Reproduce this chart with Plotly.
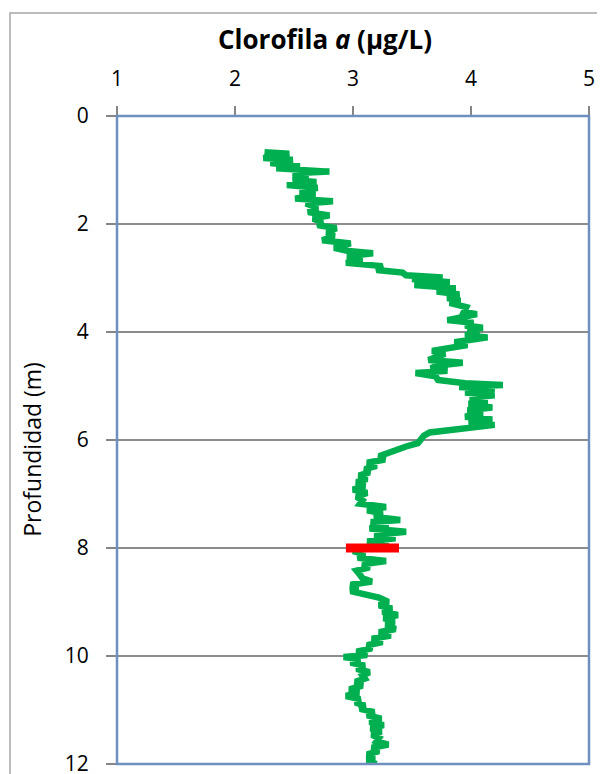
import plotly.graph_objects as go

# Chlorophyll-a profile (depth in m, value in µg/L)
depth = [0.67, 0.70, 0.78, 0.81, 0.87, 0.93, 0.97, 1.03, 1.06, 1.12, 1.19, 1.22, 1.28, 1.33, 1.40,
         1.46, 1.53, 1.58, 1.62, 1.70, 1.78, 1.84, 1.90, 1.96, 2.02, 2.08, 2.15, 2.22, 2.30, 2.36,
         2.44, 2.50, 2.54, 2.60, 2.66, 2.72, 2.78, 2.85, 2.90, 2.95, 2.99, 3.02, 3.08, 3.13, 3.19,
         3.25, 3.30, 3.37, 3.42, 3.46, 3.54, 3.63, 3.67, 3.72, 3.78, 3.83, 3.88, 3.92, 3.97, 4.01,
         4.06, 4.10, 4.15, 4.19, 4.24, 4.30, 4.35, 4.40, 4.46, 4.52, 4.57, 4.62, 4.67, 4.72, 4.76,
         4.82, 4.89, 4.95, 4.98, 5.02, 5.06, 5.12, 5.17, 5.22, 5.28, 5.33, 5.40, 5.45, 5.50, 5.57,
         5.62, 5.68, 5.72, 5.78, 5.82, 5.86, 5.92, 6.00, 6.06, 6.12, 6.18, 6.24, 6.30, 6.36, 6.42,
         6.48, 6.54, 6.60, 6.66, 6.72, 6.78, 6.85, 6.92, 6.98, 7.05, 7.12, 7.18, 7.24, 7.30, 7.36,
         7.42, 7.48, 7.52, 7.58, 7.64, 7.70, 7.76, 7.82, 7.88, 7.94, 8.00, 8.06, 8.12, 8.18, 8.24,
         8.30, 8.36, 8.42, 8.50, 8.56, 8.62, 8.68, 8.74, 8.80, 8.86, 8.92, 9.00, 9.06, 9.12, 9.18,
         9.24, 9.30, 9.36, 9.42, 9.50, 9.56, 9.62, 9.68, 9.74, 9.80, 9.86, 9.92, 9.98, 10.02, 10.06,
         10.12, 10.18, 10.24, 10.30, 10.36, 10.42, 10.48, 10.55, 10.62, 10.68, 10.74, 10.80, 10.86, 10.92, 10.98,
         11.04, 11.10, 11.16, 11.22, 11.28, 11.34, 11.40, 11.46, 11.52, 11.58, 11.64, 11.70, 11.76, 11.82, 11.88,
         11.94, 12.00]
chl = [2.25, 2.46, 2.24, 2.49, 2.30, 2.55, 2.35, 2.80, 2.49, 2.62, 2.49, 2.69, 2.44, 2.70, 2.55,
       2.68, 2.51, 2.83, 2.60, 2.70, 2.62, 2.80, 2.66, 2.74, 2.70, 2.86, 2.78, 2.84, 2.74, 2.98,
       2.84, 2.96, 3.17, 2.95, 3.08, 2.94, 3.25, 3.20, 3.42, 3.45, 3.76, 3.50, 3.82, 3.52, 3.87,
       3.71, 3.90, 3.80, 3.91, 3.82, 3.96, 3.94, 4.05, 3.93, 3.80, 4.02, 3.95, 4.10, 3.97, 4.07,
       3.95, 4.14, 3.98, 3.86, 3.97, 3.83, 3.67, 3.78, 3.70, 3.64, 3.93, 3.72, 3.66, 3.80, 3.53,
       3.70, 3.72, 3.95, 4.27, 3.90, 4.20, 3.95, 4.20, 3.99, 4.14, 3.98, 4.18, 3.97, 4.10, 3.95,
       4.18, 3.98, 4.20, 3.93, 3.72, 3.65, 3.60, 3.56, 3.55, 3.45, 3.38, 3.32, 3.22, 3.27, 3.12,
       3.20, 3.10, 3.14, 3.05, 3.12, 3.03, 3.10, 3.00, 3.12, 3.03, 3.08, 3.06, 3.28, 3.12, 3.25,
       3.18, 3.40, 3.15, 3.30, 3.14, 3.45, 3.18, 3.36, 3.12, 3.30, 3.10, 3.00, 3.10, 3.04, 3.28,
       3.08, 3.14, 3.03, 3.06, 3.08, 3.16, 2.98, 3.04, 2.98, 3.10, 3.22, 3.30, 3.22, 3.33, 3.25,
       3.38, 3.26, 3.35, 3.28, 3.36, 3.22, 3.32, 3.16, 3.25, 3.12, 3.16, 3.03, 3.12, 2.92, 3.06,
       2.98, 3.10, 3.03, 3.14, 3.08, 3.10, 3.02, 3.08, 2.97, 3.05, 2.94, 3.06, 3.02, 3.10, 3.06,
       3.18, 3.12, 3.24, 3.14, 3.26, 3.15, 3.24, 3.16, 3.22, 3.20, 3.30, 3.16, 3.22, 3.12, 3.18,
       3.12, 3.20]

# Red marker bar at 8 m
bar_x = [2.94, 3.39]
bar_y = [8, 8]

x_ticks = [1, 2, 3, 4, 5]
y_ticks = [0, 2, 4, 6, 8, 10, 12]

FONT = "Open Sans"

fig = go.Figure()
fig.add_trace(go.Scatter(x=chl, y=depth, mode="lines",
                         line=dict(color="#00B050", width=6.5, shape="linear"),
                         hoverinfo="x+y", showlegend=False))
fig.add_trace(go.Scatter(x=bar_x, y=bar_y, mode="lines",
                         line=dict(color="#FF0000", width=9),
                         showlegend=False))

fig.update_layout(
    width=605, height=790,
    margin=dict(l=109, r=24, t=108, b=34),
    paper_bgcolor="white", plot_bgcolor="white",
    font=dict(family=FONT, color="#000000"),
    xaxis=dict(side="top", range=[1, 5], tickvals=x_ticks, ticks="outside",
               ticklen=9, tickwidth=1.5, tickcolor="#868686", showgrid=False,
               zeroline=False, showline=False, tickfont=dict(size=21),
               ticklabelstandoff=12),
    yaxis=dict(range=[12, 0], tickvals=y_ticks, ticks="outside", ticklen=10,
               tickwidth=1.5, tickcolor="#868686", showgrid=True,
               gridcolor="#8C8C8C", gridwidth=2, zeroline=False, showline=False,
               tickfont=dict(size=21), ticklabelstandoff=13),
    shapes=[
        dict(type="rect", xref="paper", yref="paper", x0=0, x1=1, y0=0, y1=1,
             line=dict(color="#6F8FC0", width=2.5), layer="above"),
        dict(type="rect", xref="paper", yref="paper", x0=-0.2267, x1=1.3,
             y0=-0.3, y1=1.159, line=dict(color="#A6A6A6", width=1.5), layer="below"),
    ],
    annotations=[
        dict(text="<b>Clorofila <i>a</i> (µg/L)</b>", xref="paper", yref="paper",
             x=0.4417, y=1.119, xanchor="center", yanchor="middle", showarrow=False,
             font=dict(size=26, family=FONT)),
        dict(text="Profundidad (m)", xref="paper", yref="paper", x=-0.180, y=0.485,
             xanchor="center", yanchor="middle", textangle=-90, showarrow=False,
             font=dict(size=23, family=FONT)),
    ],
)

fig.write_html("out.html")
